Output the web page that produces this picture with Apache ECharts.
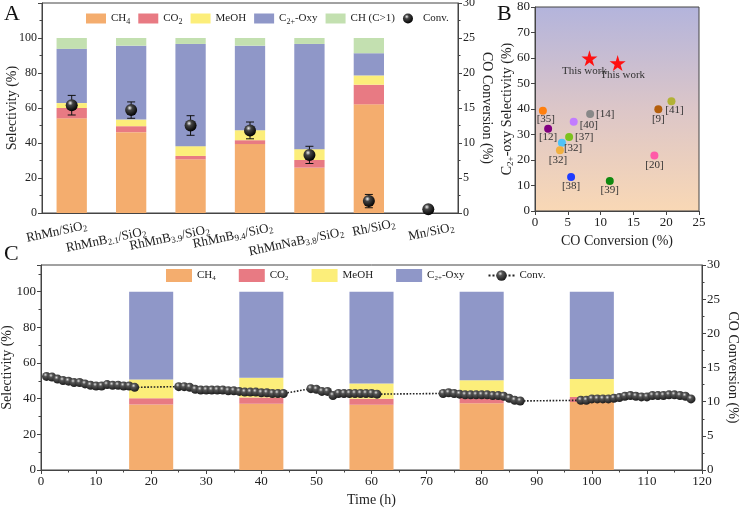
<!DOCTYPE html>
<html>
<head>
<meta charset="utf-8">
<title>Selectivity / CO conversion</title>
<script src="https://cdn.jsdelivr.net/npm/echarts@6.0.0/dist/echarts.min.js"></script>
<style>
  html, body { margin: 0; padding: 0; background: #fff; }
  #chart { width: 740px; height: 508px; }
</style>
</head>
<body>
<div id="chart"></div>
<script>
// ---- panel A: catalysts ----
const catalysts = ['RhMn/SiO{s|2}', 'RhMnB{s|2.1}/SiO{s|2}', 'RhMnB{s|3.9}/SiO{s|2}', 'RhMnB{s|9.4}/SiO{s|2}',
  'RhMnNaB{s|3.8}/SiO{s|2}', 'Rh/SiO{s|2}', 'Mn/SiO{s|2}']
const ch4A = [54.1, 46.2, 30.7, 39.4, 25.9, 62.1, 0]
const co2A = [5.9, 3.4, 1.9, 2.2, 4.4, 11.2, 0]
const meohA = [2.8, 3.8, 5.6, 5.7, 6.2, 5.3, 0]
const oxyA = [31.0, 42.2, 58.4, 48.3, 60.1, 12.7, 0]
const chA = [6.2, 4.4, 3.4, 4.4, 3.4, 8.7, 0]
const convA = [15.4, 14.7, 12.5, 11.8, 8.3, 1.7, 0.55]
const errA = [1.4, 1.17, 1.4, 1.2, 1.23, 0.95, 0]

// ---- panel B: literature comparison ----
const refNames = ['[35]', '[12]', '[32]', '[32]', '[37]', '[40]', '[14]', '[38]', '[39]', '[20]', '[9]', '[41]']
const refConv = [1.2, 2.0, 4.1, 3.8, 5.2, 5.9, 8.4, 5.5, 11.4, 18.2, 18.8, 20.8]
const refSel = [39.3, 32.3, 26.8, 23.8, 29.0, 35.0, 38.0, 13.3, 11.8, 21.8, 39.9, 43.0]
const workConv = [8.3, 12.6]
const workSel = [59.9, 58.0]

// ---- panel C: stability test ----
const timesC = [20, 40, 60, 80, 100]
const ch4C = [36.7, 37.1, 36.6, 37.5, 38.2]
const co2C = [3.6, 3.6, 3.4, 3.2, 2.8]
const meohC = [10.5, 11.0, 8.5, 9.7, 10.1]
const oxyC = [49.2, 48.3, 51.5, 49.6, 48.9]
const convT = [1, 2, 3, 4, 5, 6, 7, 8, 9, 10, 11, 12, 13, 14, 15, 16, 17,
  25, 26, 27, 28, 29, 30, 31, 32, 33, 34, 35, 36, 37, 38, 39, 40, 41, 42, 43, 44,
  49, 50, 51, 52, 53, 54, 55, 56, 57, 58, 59, 60, 61,
  73, 74, 75, 76, 77, 78, 79, 80, 81, 82, 83, 84, 85, 86, 87,
  98, 99, 100, 101, 102, 103, 104, 105, 106, 107, 108, 109, 110, 111, 112, 113, 114, 115, 116, 117, 118]
const convC = [13.7, 13.6, 13.3, 13.1, 13.0, 12.8, 12.8, 12.6, 12.4, 12.3, 12.3, 12.5, 12.4, 12.4, 12.3, 12.3, 12.1,
  12.2, 12.2, 12.1, 11.8, 11.7, 11.7, 11.7, 11.7, 11.7, 11.6, 11.6, 11.5, 11.4, 11.4, 11.4, 11.3, 11.3, 11.2, 11.2, 11.2,
  11.9, 11.8, 11.5, 11.5, 10.9, 11.2, 11.2, 11.2, 11.2, 11.2, 11.2, 11.2, 11.1,
  11.2, 11.3, 11.2, 11.1, 11.0, 11.0, 11.0, 11.0, 11.0, 10.9, 10.9, 10.8, 10.5, 10.2, 10.1,
  10.2, 10.2, 10.4, 10.4, 10.4, 10.4, 10.5, 10.6, 10.8, 10.9, 10.8, 10.7, 10.7, 10.9, 10.9, 10.9, 11.0, 11.0, 10.9, 10.8, 10.4]

// colours
const cCH4 = '#f4ad6e'
const cCO2 = '#e87a83'
const cMeOH = '#fcee7a'
const cOxy = '#8f97c8'
const cCH = '#c3e0b0'
const refColors = ['#ff7f0e', '#800080', '#4fc3f7', '#f0b040', '#7cc21e', '#c27cff', '#888888',
  '#1e3cff', '#108a10', '#ff5aa8', '#b45f0c', '#b2b236']
// label placement of literature points
const refLabelPos = [
  { position: 'bottom', distance: -1, offset: [3, 0] }, { position: 'bottom', distance: -1 },
  { position: 'right', distance: 0, offset: [-2, 5] }, { position: 'bottom', distance: 0, offset: [-2, 0] },
  { position: 'right', distance: 2 }, { position: 'right', distance: 2, offset: [0, 3] },
  { position: 'right', distance: 2 }, { position: 'bottom', distance: 0 },
  { position: 'bottom', distance: 0 }, { position: 'bottom', distance: 0 },
  { position: 'bottom', distance: 0 }, { position: 'bottom', distance: -1, offset: [3, 0] }
]
// offsets (px) of the slanted catalyst labels from their tick
const catShiftX = [-15, -25, -21, -17, -13, 5, 3]
const catShiftY = [19, 27, 25, 23, 29, 15, 19]

const serif = "'Liberation Serif', 'Times New Roman', serif"
const txt = '#222'
const axisCol = '#444'
const subStyle = size => ({ fontSize: size, fontFamily: serif, color: txt, padding: [Math.round(size * 0.7), 0, 0, 0] })

const sphere = (hi, mid, dark) => ({
  type: 'radial', x: 0.38, y: 0.32, r: 0.7,
  colorStops: [{ offset: 0, color: hi }, { offset: 0.3, color: mid }, { offset: 1, color: dark }]
})

const legendText = {
  'CH4': 'CH{s|4}', 'CO2': 'CO{s|2}', 'MeOH': 'MeOH', 'C2+-Oxy': 'C{s|2+}-Oxy', 'CH (C>1)': 'CH (C>1)', 'Conv.': 'Conv.'
}

function valueAxis (opt) {
  return Object.assign({
    type: 'value',
    splitLine: { show: false },
    axisLine: { show: true, lineStyle: { color: axisCol } },
    axisTick: { show: true, length: 4, lineStyle: { color: axisCol } },
    minorTick: { show: true, splitNumber: 2, length: 2.5, lineStyle: { color: axisCol } },
    axisLabel: { color: txt, fontFamily: serif, fontSize: 13, margin: 5 },
    nameLocation: 'middle',
    nameMoveOverlap: false,
    nameTextStyle: { color: txt, fontFamily: serif, fontSize: 14 }
  }, opt)
}

function stackA (name, data, color) {
  return { name, type: 'bar', stack: 'a', xAxisIndex: 0, yAxisIndex: 0, barWidth: '51%', data, itemStyle: { color } }
}

// panel C bars sit on a time axis, so stack them by hand
const layersC = [ch4C, co2C, meohC, oxyC]
const cumC = [timesC.map(() => 0)]
layersC.forEach((arr, k) => cumC.push(arr.map((v, i) => cumC[k][i] + v)))
function stackC (name, k, color) {
  return {
    name, type: 'custom', xAxisIndex: 2, yAxisIndex: 3,
    data: timesC.map((t, i) => [t, cumC[k][i], cumC[k + 1][i]]),
    encode: { x: 0, y: [1, 2] },
    itemStyle: { color },
    renderItem: (params, api) => {
      const lo = api.coord([api.value(0), api.value(1)])
      const hi = api.coord([api.value(0), api.value(2)])
      const w = api.size([8, 0])[0]
      return {
        type: 'rect',
        shape: { x: lo[0] - w / 2, y: hi[1], width: w, height: lo[1] - hi[1] },
        style: { fill: color }
      }
    }
  }
}

const gridBase = { show: true, borderColor: axisCol, borderWidth: 1, outerBoundsMode: 'none', containLabel: false }

const chart = echarts.init(document.getElementById('chart'))
chart.setOption({
  animation: false,
  textStyle: { fontFamily: serif },
  graphic: [
    { type: 'text', left: 4, top: 3, style: { text: 'A', font: '22px ' + serif, fill: '#111' } },
    { type: 'text', left: 497, top: 3, style: { text: 'B', font: '22px ' + serif, fill: '#111' } },
    { type: 'text', left: 4, top: 243, style: { text: 'C', font: '22px ' + serif, fill: '#111' } }
  ],
  grid: [
    Object.assign({ left: 42, right: 282, top: 3, height: 210, backgroundColor: 'transparent' }, gridBase),
    Object.assign({
      left: 535, right: 41, top: 7, height: 204,
      backgroundColor: { type: 'linear', x: 0, y: 0, x2: 0, y2: 1, colorStops: [{ offset: 0, color: '#b3b4dc' }, { offset: 0.5, color: '#dcc6c8' }, { offset: 1, color: '#f9d8b5' }] }
    }, gridBase),
    Object.assign({ left: 41, right: 38, top: 265, height: 205, backgroundColor: 'transparent' }, gridBase)
  ],
  legend: [
    {
      left: 81, top: 8, itemWidth: 20, itemHeight: 10, itemGap: 8,
      data: [
        { name: 'CH4', icon: 'rect' }, { name: 'CO2', icon: 'rect' }, { name: 'MeOH', icon: 'rect' },
        { name: 'C2+-Oxy', icon: 'rect' }, { name: 'CH (C>1)', icon: 'rect' }, { name: 'Conv.', icon: 'circle' }
      ],
      formatter: name => legendText[name],
      textStyle: { color: txt, fontFamily: serif, fontSize: 11, rich: { s: subStyle(8) } }
    },
    {
      left: 161, top: 264, itemWidth: 26, itemHeight: 13, itemGap: 23,
      data: [
        { name: 'CH4 ', icon: 'rect' }, { name: 'CO2 ', icon: 'rect' }, { name: 'MeOH ', icon: 'rect' },
        { name: 'C2+-Oxy ', icon: 'rect' }, { name: 'Conv. ' }
      ],
      formatter: name => legendText[name.trim()],
      textStyle: { color: txt, fontFamily: serif, fontSize: 11, rich: { s: subStyle(7) } }
    }
  ],
  xAxis: [
    {
      type: 'category', gridIndex: 0, data: catalysts,
      axisLine: { lineStyle: { color: axisCol } },
      axisTick: { show: false },
      axisLabel: { show: false }
    },
    valueAxis({
      gridIndex: 1, min: 0, max: 25, interval: 5, minorTick: { show: false },
      name: 'CO Conversion (%)', nameGap: 23
    }),
    valueAxis({
      gridIndex: 2, min: 0, max: 120, interval: 10,
      name: 'Time (h)', nameGap: 23
    })
  ],
  yAxis: [
    valueAxis({
      gridIndex: 0, min: 0, max: 120, interval: 20,
      axisLabel: { color: txt, fontFamily: serif, fontSize: 12, margin: 5, showMaxLabel: false },
      name: 'Selectivity (%)', nameGap: 23
    }),
    valueAxis({
      gridIndex: 0, position: 'right', min: 0, max: 30, interval: 5,
      axisLabel: { color: txt, fontFamily: serif, fontSize: 12, margin: 5 },
      name: 'CO Conversion (%)', nameGap: 22, nameRotate: -90
    }),
    valueAxis({
      gridIndex: 1, min: 0, max: 80, interval: 10, minorTick: { show: false },
      name: 'C{s|2+}-oxy Selectivity (%)', nameGap: 20,
      nameTextStyle: { color: txt, fontFamily: serif, fontSize: 14, rich: { s: subStyle(9) } }
    }),
    valueAxis({
      gridIndex: 2, min: 0, max: 115, interval: 20,
      axisLabel: { color: txt, fontFamily: serif, fontSize: 13, margin: 5, showMaxLabel: false },
      name: 'Selectivity (%)', nameGap: 27
    }),
    valueAxis({
      gridIndex: 2, position: 'right', min: 0, max: 30, interval: 5,
      name: 'CO Conversion (%)', nameGap: 24, nameRotate: -90
    })
  ],
  series: [
    stackA('CH4', ch4A, cCH4),
    stackA('CO2', co2A, cCO2),
    stackA('MeOH', meohA, cMeOH),
    stackA('C2+-Oxy', oxyA, cOxy),
    stackA('CH (C>1)', chA, cCH),
    {
      // slanted catalyst names under panel A
      type: 'custom', xAxisIndex: 0, yAxisIndex: 0, silent: true,
      data: catalysts.map((c, i) => [i, 0]),
      renderItem: (params, api) => {
        const i = params.dataIndex
        const p = api.coord([api.value(0), 0])
        return {
          type: 'text',
          x: p[0] + catShiftX[i], y: p[1] + catShiftY[i], rotation: 12 * Math.PI / 180,
          style: {
            text: catalysts[i], align: 'center', verticalAlign: 'middle',
            font: '13px ' + serif, fill: txt,
            rich: { s: { fontSize: 9, fontFamily: serif, fill: txt, padding: [6, 0, 0, 0] } }
          }
        }
      }
    },
    {
      // error bars of conversion
      type: 'custom', xAxisIndex: 0, yAxisIndex: 1, z: 3,
      data: convA.map((v, i) => [i, v - errA[i], v + errA[i]]).filter((d, i) => errA[i] > 0),
      encode: { x: 0, y: [1, 2] },
      renderItem: (params, api) => {
        const lo = api.coord([api.value(0), api.value(1)])
        const hi = api.coord([api.value(0), api.value(2)])
        const st = { stroke: '#111', lineWidth: 1 }
        return {
          type: 'group',
          children: [
            { type: 'line', shape: { x1: lo[0], y1: lo[1], x2: hi[0], y2: hi[1] }, style: st },
            { type: 'line', shape: { x1: lo[0] - 4, y1: lo[1], x2: lo[0] + 4, y2: lo[1] }, style: st },
            { type: 'line', shape: { x1: hi[0] - 4, y1: hi[1], x2: hi[0] + 4, y2: hi[1] }, style: st }
          ]
        }
      }
    },
    {
      name: 'Conv.', type: 'scatter', xAxisIndex: 0, yAxisIndex: 1, z: 4,
      symbolSize: 12, data: convA,
      itemStyle: { color: sphere('#f4f4f4', '#444', '#000'), opacity: 1 }
    },
    {
      type: 'scatter', xAxisIndex: 1, yAxisIndex: 2, symbolSize: 8,
      data: refNames.map((n, i) => ({
        name: n, value: [refConv[i], refSel[i]],
        itemStyle: { color: refColors[i], opacity: 1 },
        label: refLabelPos[i]
      })),
      label: { show: true, formatter: '{b}', color: '#333', fontFamily: serif, fontSize: 11 }
    },
    {
      type: 'scatter', xAxisIndex: 1, yAxisIndex: 2, symbolSize: 16,
      symbol: 'path://M50,0 L61,35 L98,35 L68,57 L79,91 L50,70 L21,91 L32,57 L2,35 L39,35 Z',
      data: workConv.map((v, i) => ({ name: 'This work', value: [v, workSel[i]], label: { offset: [i ? 5 : -5, 0] } })),
      itemStyle: { color: '#ff1010', opacity: 1 },
      label: { show: true, position: 'bottom', distance: -1, formatter: '{b}', color: '#333', fontFamily: serif, fontSize: 11 }
    },
    stackC('CH4 ', 0, cCH4),
    stackC('CO2 ', 1, cCO2),
    stackC('MeOH ', 2, cMeOH),
    stackC('C2+-Oxy ', 3, cOxy),
    {
      name: 'Conv. ', type: 'line', xAxisIndex: 2, yAxisIndex: 4, z: 4,
      data: convT.map((t, i) => [t, convC[i]]),
      symbol: 'circle', symbolSize: 9, showSymbol: true,
      lineStyle: { type: 'dotted', color: '#222', width: 1.6 },
      itemStyle: { color: sphere('#e0e0e0', '#555', '#1a1a1a'), borderWidth: 0, opacity: 1 }
    }
  ]
})
</script>
</body>
</html>
